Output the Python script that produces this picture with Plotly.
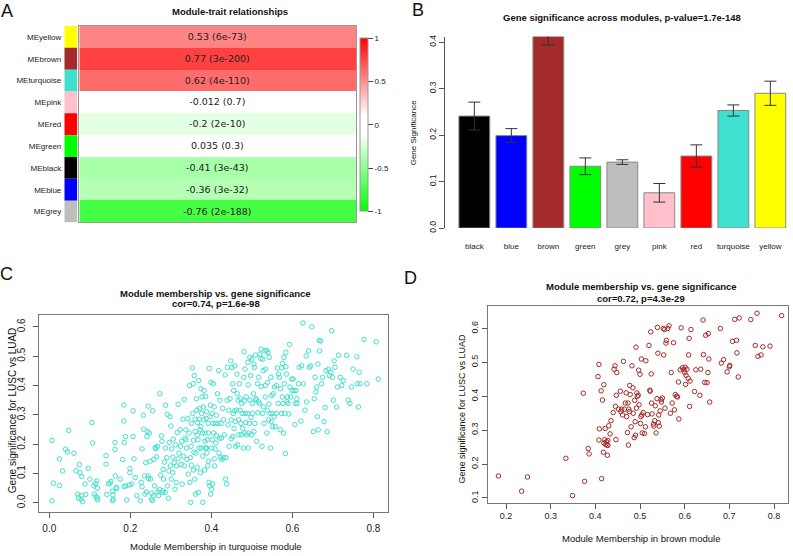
import plotly.graph_objects as go

W, H = 793, 556
FONT = "Liberation Sans, Arial, sans-serif"

# ---------------- data ----------------
# A: module-trait heatmap (top to bottom)
modules = ["MEyellow", "MEbrown", "MEturquoise", "MEpink", "MEred",
           "MEgreen", "MEblack", "MEblue", "MEgrey"]
module_colors = ["#FFFF00", "#A52A2A", "#40E0D0", "#FFC0CB", "#FF0000",
                 "#00FF00", "#000000", "#0000FF", "#BEBEBE"]
trait_cor = [0.53, 0.77, 0.62, -0.012, -0.2, 0.035, -0.41, -0.36, -0.76]
trait_p = ["6e-73", "3e-200", "4e-110", "0.7", "2e-10", "0.3", "3e-43", "3e-32", "2e-188"]

# B: gene significance per module
gs_modules = ["black", "blue", "brown", "green", "grey", "pink", "red", "turquoise", "yellow"]
gs_colors = ["#000000", "#0000FF", "#A52A2A", "#00FF00", "#BEBEBE",
             "#FFC0CB", "#FF0000", "#40E0D0", "#FFFF00"]
gs_mean = [0.241, 0.199, 0.412, 0.133, 0.142, 0.076, 0.155, 0.253, 0.290]
gs_err = [0.030, 0.015, 0.018, 0.018, 0.005, 0.020, 0.024, 0.012, 0.026]

# C: turquoise module membership vs gene significance
turquoise_points = [
    (0.007,0.213),(0.010,0.067),(0.007,0.007),(0.025,0.150),(0.025,0.059),(0.033,0.109),(0.040,0.183),
    (0.045,0.174),(0.048,0.247),(0.061,0.169),(0.066,0.109),(0.070,0.030),(0.072,0.017),(0.074,0.131),
    (0.076,0.103),(0.078,0.013),(0.080,0.025),(0.082,0.004),(0.080,0.090),(0.088,0.064),(0.090,0.029),
    (0.096,0.118),(0.105,0.274),(0.107,0.204),(0.100,0.081),(0.111,0.030),(0.110,0.058),(0.114,0.066),
    (0.117,0.075),(0.119,0.017),(0.115,0.021),(0.119,0.011),(0.119,0.050),
    (0.140,0.132),(0.140,0.161),(0.142,0.029),(0.146,0.065),(0.150,0.067),(0.152,0.073),(0.156,0.007),
    (0.158,0.012),(0.157,0.027),(0.162,0.182),(0.162,0.206),(0.163,0.092),(0.165,0.053),(0.166,0.048),
    (0.156,0.040),(0.175,0.081),(0.181,0.148),(0.184,0.334),(0.184,0.279),(0.185,0.206),(0.188,0.226),
    (0.185,0.056),(0.189,0.058),(0.191,0.010),(0.198,0.061),(0.199,0.117),(0.199,0.103),(0.204,0.064),
    (0.207,0.314),(0.207,0.226),(0.209,0.150),(0.212,0.086),(0.216,0.025),(0.225,0.007),(0.227,0.070),
    (0.229,0.055),(0.229,0.184),(0.232,0.299),(0.233,0.251),(0.235,0.092),(0.236,0.030),(0.238,0.137),
    (0.240,0.037),(0.241,0.226),(0.242,0.243),(0.244,0.330),(0.244,0.092),(0.245,0.083),(0.247,0.238),
    (0.249,0.142),(0.250,0.081),(0.252,0.013),(0.253,0.033),(0.255,0.008),(0.255,0.314),(0.257,0.025),
    (0.258,0.148),(0.260,0.058),(0.262,0.189),(0.263,0.184),(0.265,0.157),(0.267,0.193),(0.268,0.038),
    (0.270,0.025),(0.272,0.045),(0.273,0.372),(0.275,0.095),(0.277,0.229),(0.278,0.210),(0.279,0.036),
    (0.281,0.114),(0.281,0.041),(0.282,0.081),(0.284,0.139),(0.286,0.036),(0.287,0.333),(0.287,0.187),
    (0.290,0.154),(0.291,0.302),(0.292,0.058),(0.294,0.016),(0.295,0.109),(0.296,0.206),(0.298,0.294),
    (0.299,0.126),(0.300,0.262),(0.301,0.081),(0.302,0.184),(0.305,0.103),(0.305,0.156),(0.306,0.217),
    (0.308,0.137),(0.310,0.047),(0.312,0.198),(0.313,0.070),(0.314,0.126),(0.316,0.240),(0.318,0.150),
    (0.318,0.336),(0.320,0.170),(0.323,0.249),(0.324,0.193),(0.325,0.131),(0.327,0.210),(0.328,0.064),
    (0.330,0.285),(0.331,0.159),(0.333,0.352),(0.333,0.126),(0.335,0.221),(0.337,0.215),(0.337,0.249),
    (0.339,0.187),(0.340,0.148),(0.342,0.288),(0.343,0.098),(0.345,0.238),(0.346,0.400),(0.347,0.070),
    (0.348,0.154),(0.349,0.002),(0.350,0.193),(0.351,0.271),(0.351,0.128),(0.353,0.460),(0.354,0.305),
    (0.355,0.406),(0.356,0.112),(0.356,0.213),(0.357,0.173),(0.358,0.434),(0.359,0.081),(0.360,0.243),
    (0.360,0.285),(0.361,0.030),(0.362,0.170),(0.363,0.355),(0.364,0.316),(0.365,0.120),(0.365,0.231),
    (0.366,0.274),(0.367,0.215),(0.368,0.036),(0.369,0.417),(0.370,0.285),(0.370,0.187),(0.371,0.322),
    (0.372,0.249),(0.373,0.103),(0.374,0.389),(0.374,0.260),(0.375,0.187),(0.376,0.305),(0.377,0.361),
    (0.378,0.238),(0.379,0.159),(0.379,0.002),(0.380,0.327),(0.381,0.283),(0.382,0.383),(0.383,0.112),
    (0.384,0.210),(0.384,0.238),(0.385,0.187),(0.386,0.363),(0.387,0.288),(0.388,0.311),(0.388,0.187),
    (0.389,0.170),(0.390,0.215),(0.391,0.126),(0.392,0.271),(0.393,0.238),(0.393,0.142),(0.394,0.070),
    (0.395,0.458),(0.396,0.058),(0.397,0.294),(0.398,0.030),(0.398,0.333),(0.399,0.411),(0.400,0.187),
    (0.401,0.047),(0.402,0.215),(0.402,0.305),(0.403,0.064),(0.404,0.271),(0.405,0.406),(0.406,0.238),
    (0.407,0.150),(0.407,0.327),(0.408,0.126),(0.409,0.184),(0.410,0.271),(0.411,0.204),(0.412,0.299),
    (0.413,0.229),(0.415,0.372),(0.416,0.271),(0.418,0.451),(0.419,0.170),(0.420,0.221),(0.421,0.350),
    (0.423,0.156),(0.424,0.271),(0.425,0.221),(0.426,0.148),(0.428,0.322),(0.430,0.283),(0.430,0.154),
    (0.432,0.232),(0.434,0.436),(0.435,0.081),(0.436,0.154),(0.438,0.064),(0.439,0.350),(0.440,0.462),
    (0.441,0.266),(0.443,0.316),(0.444,0.193),(0.446,0.355),(0.448,0.484),(0.449,0.283),(0.449,0.219),
    (0.451,0.462),(0.452,0.406),(0.453,0.226),(0.454,0.305),(0.455,0.383),(0.456,0.254),(0.457,0.314),
    (0.458,0.467),(0.459,0.277),(0.460,0.193),(0.462,0.316),(0.463,0.439),(0.464,0.372),(0.465,0.198),
    (0.466,0.350),(0.467,0.283),(0.468,0.232),(0.469,0.406),(0.471,0.316),(0.472,0.355),(0.473,0.271),
    (0.474,0.232),(0.475,0.339),(0.476,0.305),(0.477,0.254),(0.479,0.187),(0.480,0.428),(0.481,0.515),
    (0.481,0.348),(0.482,0.238),(0.483,0.456),(0.484,0.305),(0.485,0.274),(0.486,0.361),(0.487,0.232),
    (0.489,0.305),(0.490,0.479),(0.491,0.187),(0.491,0.402),(0.492,0.238),(0.494,0.271),(0.495,0.350),
    (0.495,0.496),(0.497,0.434),(0.498,0.291),(0.499,0.232),(0.500,0.490),(0.501,0.339),(0.502,0.305),
    (0.504,0.372),(0.505,0.473),(0.505,0.243),(0.506,0.462),(0.507,0.271),(0.509,0.504),(0.510,0.355),
    (0.510,0.350),(0.512,0.210),(0.514,0.406),(0.515,0.307),(0.516,0.345),(0.517,0.428),(0.519,0.339),
    (0.520,0.507),(0.522,0.492),(0.523,0.397),(0.523,0.524),(0.525,0.193),(0.526,0.305),(0.527,0.490),
    (0.528,0.451),(0.529,0.327),(0.530,0.271),(0.532,0.518),(0.533,0.361),(0.533,0.400),(0.534,0.456),
    (0.536,0.520),(0.537,0.238),(0.538,0.316),(0.539,0.411),(0.540,0.513),(0.541,0.283),(0.542,0.337),
    (0.543,0.496),(0.545,0.305),(0.546,0.187),(0.547,0.428),(0.548,0.277),(0.549,0.366),(0.551,0.305),
    (0.551,0.260),(0.553,0.372),(0.555,0.294),(0.556,0.395),(0.558,0.260),(0.560,0.305),(0.561,0.400),
    (0.563,0.460),(0.565,0.339),(0.566,0.439),(0.568,0.428),(0.570,0.249),(0.571,0.389),(0.573,0.305),
    (0.574,0.460),(0.575,0.361),(0.576,0.475),(0.577,0.339),(0.578,0.238),(0.579,0.496),(0.580,0.406),
    (0.581,0.305),(0.583,0.168),(0.584,0.464),(0.584,0.513),(0.585,0.439),(0.586,0.345),(0.588,0.361),
    (0.589,0.339),(0.591,0.303),(0.593,0.540),(0.594,0.395),(0.596,0.361),(0.598,0.422),(0.599,0.383),
    (0.602,0.422),(0.604,0.383),(0.606,0.267),(0.607,0.339),(0.609,0.383),(0.611,0.355),(0.612,0.339),
    (0.615,0.406),(0.617,0.462),(0.621,0.279),(0.623,0.467),(0.626,0.613),(0.627,0.406),(0.631,0.316),
    (0.634,0.501),(0.635,0.344),(0.640,0.518),(0.642,0.462),(0.645,0.467),(0.648,0.600),(0.652,0.243),
    (0.654,0.355),(0.656,0.428),(0.658,0.378),(0.660,0.395),(0.662,0.294),(0.663,0.473),(0.664,0.249),
    (0.666,0.554),(0.667,0.518),(0.670,0.552),(0.672,0.406),(0.675,0.428),(0.678,0.277),(0.681,0.325),
    (0.683,0.451),(0.686,0.243),(0.689,0.456),(0.691,0.434),(0.695,0.445),(0.697,0.587),(0.699,0.428),
    (0.701,0.350),(0.703,0.484),(0.705,0.462),(0.709,0.327),(0.711,0.395),(0.714,0.503),(0.718,0.428),
    (0.722,0.400),(0.726,0.417),(0.734,0.503),(0.738,0.350),(0.742,0.339),(0.746,0.395),(0.750,0.456),
    (0.759,0.498),(0.760,0.406),(0.763,0.327),(0.765,0.445),(0.767,0.406),(0.777,0.557),(0.784,0.406),
    (0.807,0.549),(0.812,0.422),
]

# D: brown module membership vs gene significance
brown_points = [
    (0.183,0.165),(0.235,0.120),(0.248,0.162),(0.334,0.217),(0.349,0.107),(0.373,0.409),(0.376,0.149),
    (0.384,0.246),(0.386,0.230),(0.406,0.458),(0.408,0.494),(0.409,0.304),(0.408,0.271),(0.413,0.416),
    (0.414,0.157),(0.416,0.389),(0.418,0.235),(0.419,0.434),(0.419,0.262),(0.421,0.272),(0.422,0.305),
    (0.423,0.258),(0.425,0.266),(0.426,0.256),(0.427,0.226),(0.428,0.255),(0.428,0.270),(0.430,0.313),
    (0.433,0.289),(0.435,0.328),(0.440,0.352),(0.442,0.480),(0.444,0.490),(0.445,0.370),(0.446,0.272),
    (0.447,0.403),(0.448,0.470),(0.452,0.362),(0.456,0.415),(0.457,0.355),(0.459,0.362),(0.461,0.345),
    (0.463,0.503),(0.465,0.362),(0.467,0.380),(0.469,0.410),(0.470,0.340),(0.472,0.293),(0.473,0.380),
    (0.474,0.256),(0.475,0.362),(0.476,0.355),(0.477,0.432),(0.478,0.405),(0.480,0.310),(0.482,0.490),
    (0.484,0.425),(0.485,0.350),(0.487,0.278),(0.488,0.388),(0.489,0.325),(0.490,0.285),(0.491,0.545),
    (0.492,0.365),(0.493,0.410),(0.494,0.400),(0.496,0.403),(0.497,0.477),(0.498,0.375),(0.500,0.465),
    (0.501,0.320),(0.502,0.340),(0.503,0.510),(0.504,0.345),(0.505,0.292),(0.507,0.352),(0.510,0.290),
    (0.512,0.310),(0.513,0.505),(0.517,0.346),(0.520,0.550),(0.522,0.418),(0.523,0.415),(0.524,0.590),
    (0.525,0.466),(0.526,0.380),(0.527,0.348),(0.530,0.318),(0.531,0.312),(0.533,0.328),(0.534,0.372),
    (0.536,0.292),(0.538,0.393),(0.539,0.603),(0.540,0.527),(0.541,0.322),(0.542,0.345),(0.543,0.312),
    (0.545,0.357),(0.547,0.390),(0.548,0.383),(0.550,0.395),(0.552,0.600),(0.553,0.522),(0.555,0.597),
    (0.556,0.365),(0.558,0.557),(0.559,0.565),(0.562,0.600),(0.565,0.608),(0.568,0.350),(0.570,0.470),
    (0.572,0.380),(0.575,0.558),(0.577,0.360),(0.579,0.405),(0.582,0.400),(0.584,0.398),(0.586,0.442),
    (0.587,0.333),(0.590,0.478),(0.592,0.602),(0.595,0.484),(0.598,0.478),(0.600,0.470),(0.601,0.486),
    (0.602,0.435),(0.603,0.462),(0.605,0.480),(0.608,0.453),(0.609,0.522),(0.610,0.571),(0.611,0.370),
    (0.612,0.445),(0.614,0.597),(0.622,0.414),(0.625,0.478),(0.634,0.403),(0.636,0.480),(0.641,0.625),
    (0.642,0.523),(0.645,0.441),(0.647,0.580),(0.650,0.440),(0.652,0.470),(0.653,0.585),(0.654,0.510),
    (0.656,0.383),(0.680,0.600),(0.682,0.498),(0.687,0.508),(0.695,0.472),(0.700,0.487),(0.701,0.491),
    (0.707,0.562),(0.712,0.627),(0.716,0.565),(0.717,0.528),(0.720,0.457),(0.722,0.631),(0.748,0.626),
    (0.758,0.550),(0.762,0.645),(0.764,0.518),(0.771,0.522),(0.775,0.546),(0.791,0.548),(0.817,0.638),
]


def fx(px):
    return px / W


def fy(py):
    return 1 - py / H


fig = go.Figure()

# ---------------- A ----------------
fig.add_trace(go.Bar(
    y=modules, x=[1] * len(modules), orientation="h", width=1,
    marker=dict(color=module_colors, line=dict(width=0)),
    xaxis="x", yaxis="y", showlegend=False, hoverinfo="skip"))

cell_text = [[f"{c} ({p})"] for c, p in zip(trait_cor, trait_p)]
fig.add_trace(go.Heatmap(
    z=[[c] for c in trait_cor], x=["trait"], y=modules,
    text=cell_text, texttemplate="%{text}",
    textfont=dict(family="DejaVu Sans, sans-serif", size=9.5, color="#222"),
    zmin=-1, zmax=1,
    colorscale=[[0, "#00FF00"], [0.45, "#FFFFFF"], [0.55, "#FFFFFF"], [1, "#FF0000"]],
    colorbar=dict(x=fx(360), xanchor="left", xpad=0, ypad=0,
                  y=fy(124.5), yanchor="middle",
                  len=175 / H, lenmode="fraction", thickness=8,
                  outlinewidth=1, outlinecolor="#999",
                  tickvals=[-1, -0.5, 0, 0.5, 1], ticktext=["-1", "-0.5", "0", "0.5", "1"],
                  ticks="outside", ticklen=5, tickcolor="#444",
                  tickfont=dict(family=FONT, size=8, color="#222")),
    xaxis="x2", yaxis="y2", hoverinfo="skip"))

# ---------------- B ----------------
fig.add_trace(go.Bar(
    x=gs_modules, y=gs_mean, width=0.833,
    marker=dict(color=gs_colors, line=dict(color="#888", width=1)),
    error_y=dict(type="data", array=gs_err, color="#333", thickness=1, width=6),
    xaxis="x3", yaxis="y3", showlegend=False))

# ---------------- C / D ----------------
mm_t = [p[0] for p in turquoise_points]
gs_t = [p[1] for p in turquoise_points]
mm_b = [p[0] for p in brown_points]
gs_b = [p[1] for p in brown_points]

fig.add_trace(go.Scatter(
    x=mm_t, y=gs_t, mode="markers",
    marker=dict(symbol="circle-open", size=4.5, color="#40E0D0", line=dict(width=1)),
    xaxis="x4", yaxis="y4", showlegend=False))
fig.add_trace(go.Scatter(
    x=mm_b, y=gs_b, mode="markers",
    marker=dict(symbol="circle-open", size=4.5, color="#A52A2A", line=dict(width=1)),
    xaxis="x5", yaxis="y5", showlegend=False))

tickfont = dict(family=FONT, size=9, color="#222")
box = dict(showline=True, mirror=True, linecolor="#777", linewidth=1,
           showgrid=False, zeroline=False, ticks="outside", ticklen=5,
           tickcolor="#555", tickfont=tickfont)

yA = [fy(223.3), fy(24.3)]
fig.update_layout(
    width=W, height=H, margin=dict(l=0, r=0, t=0, b=0),
    paper_bgcolor="white", plot_bgcolor="white", showlegend=False,
    xaxis=dict(domain=[fx(64.3), fx(77.3)], range=[0, 1], visible=False),
    yaxis=dict(domain=yA, anchor="x", autorange="reversed", showline=False,
               ticks="", showgrid=False, ticklabelstandoff=2,
               tickfont=dict(family=FONT, size=8, color="#222")),
    xaxis2=dict(domain=[fx(79.3), fx(356)], anchor="y2", showticklabels=False,
                ticks="", showline=True, mirror=True, linecolor="#999"),
    yaxis2=dict(domain=yA, anchor="x2", autorange="reversed", showticklabels=False,
                ticks="", showline=True, mirror=True, linecolor="#999"),
    xaxis3=dict(domain=[fx(445), fx(788.85)], anchor="y3", range=[-0.793, 8.5],
                showline=False, ticks="", showgrid=False, ticklabelstandoff=12,
                tickfont=dict(family=FONT, size=8, color="#222")),
    yaxis3=dict(domain=[fy(229), fy(35)], anchor="x3", range=[0, 0.412],
                tickvals=[0, 0.1, 0.2, 0.3, 0.4], ticktext=["0.0", "0.1", "0.2", "0.3", "0.4"],
                tickangle=-90, showline=True, linecolor="#555", ticks="outside",
                ticklen=5, tickcolor="#555", showgrid=False, zeroline=False,
                tickfont=dict(family=FONT, size=8.5, color="#222")),
    xaxis4=dict(domain=[fx(39), fx(388)], anchor="y4", range=[-0.0254, 0.836],
                tickvals=[0, 0.2, 0.4, 0.6, 0.8], ticktext=["0.0", "0.2", "0.4", "0.6", "0.8"],
                ticklabelstandoff=2,
                **{**box, "tickfont": dict(family=FONT, size=10, color="#222")}),
    yaxis4=dict(domain=[fy(517), fy(317)], anchor="x4", range=[-0.0327, 0.6404],
                tickvals=[0, 0.1, 0.2, 0.3, 0.4, 0.5, 0.6],
                ticktext=["0.0", "0.1", "0.2", "0.3", "0.4", "0.5", "0.6"], tickangle=-90,
                ticklabelstandoff=4,
                **{**box, "tickfont": dict(family=FONT, size=10, color="#222")}),
    xaxis5=dict(domain=[fx(488), fx(788)], anchor="y5", range=[0.1597, 0.8313],
                tickvals=[0.2, 0.3, 0.4, 0.5, 0.6, 0.7, 0.8], **box),
    yaxis5=dict(domain=[fy(507), fy(308)], anchor="x5", range=[0.0863, 0.666],
                tickvals=[0.1, 0.2, 0.3, 0.4, 0.5, 0.6], tickangle=-90, **box),
)

# ---------------- text ----------------
def label(text, x, y, size=9.5, bold=False, angle=0, family=FONT):
    if bold:
        text = f"<b>{text}</b>"
    fig.add_annotation(text=text, x=fx(x), y=fy(y), xref="paper", yref="paper",
                       showarrow=False, textangle=angle, xanchor="center", yanchor="middle",
                       font=dict(family=family, size=size, color="#111"))


label("A", 7, 9, size=18)
label("B", 418, 8, size=18)
label("C", 6, 275, size=18)
label("D", 411, 280, size=18)

label("Module-trait relationships", 230, 10, bold=True)
label("Gene significance across modules, p-value=1.7e-148", 622, 15.5, bold=True)
label("Gene Significance", 413, 133, size=8, angle=-90)

label("Module membership vs. gene significance", 215.5, 295, bold=True)
label("cor=0.74, p=1.6e-98", 215.5, 305.5, bold=True)
label("Module Membership in turquoise module", 215.5, 551)
label("Gene significance for LUSC vs LUAD", 12.5, 414, size=10, angle=-90)

label("Module membership vs. gene significance", 641, 288.5, bold=True)
label("cor=0.72, p=4.3e-29", 641, 300.5, bold=True)
label("Module Membership in brown module", 641, 543)
label("Gene significance for LUSC vs LUAD", 461.7, 412, size=9, angle=-90)

# page has default body margin; remove it so the figure sits at 0,0
fig.write_html("out.html", config={"displayModeBar": False},
               post_script="document.body.style.margin='0';document.body.style.overflow='hidden';")
